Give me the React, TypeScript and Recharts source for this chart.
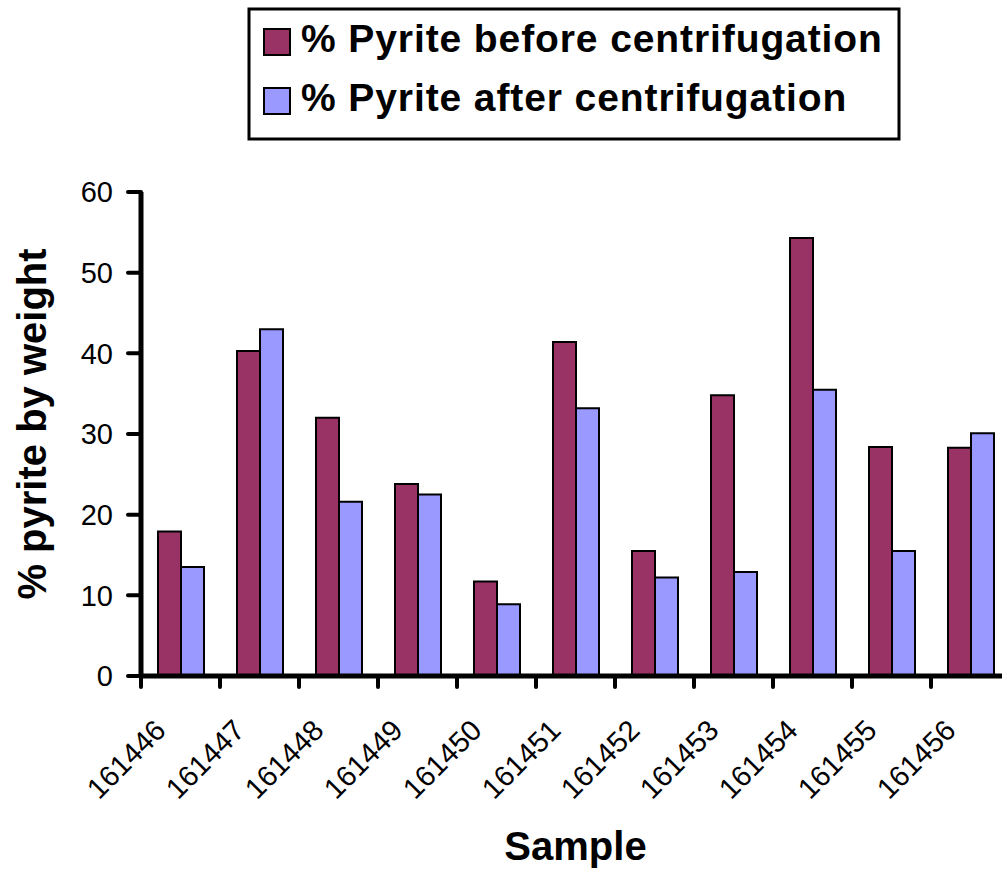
import React from 'react'
import { BarChart, Bar, XAxis, YAxis } from 'recharts'

const samples = ['161446', '161447', '161448', '161449', '161450', '161451', '161452', '161453', '161454', '161455', '161456']
const before = [17.9, 40.3, 32.0, 23.8, 11.7, 41.4, 15.5, 34.8, 54.3, 28.4, 28.3]
const after = [13.5, 43.0, 21.6, 22.5, 8.9, 33.2, 12.2, 12.9, 35.5, 15.5, 30.1]
const yTicks = [0, 10, 20, 30, 40, 50, 60]

const RED = '#993366'
const BLUE = '#9999FF'
const FONT = '"Liberation Sans", Arial, Helvetica, sans-serif'
const BAND = 79

const data = samples.map((s, i) => ({ sample: s, before: before[i], after: after[i] }))

const series = [
  { key: 'before', name: '% Pyrite before centrifugation', color: RED },
  { key: 'after', name: '% Pyrite after centrifugation', color: BLUE },
]

// ticks sit on the band edges, labels are hung off the band centre
const SampleTick = ({ x, y, payload, index }: any) => {
  const axisY = y - 11
  const bx = x - BAND / 2
  const last = index === samples.length - 1
  return (
    <g>
      <line x1={bx} y1={axisY} x2={bx} y2={axisY + 11} stroke="#000" strokeWidth={4} strokeLinecap="round" />
      {last && <line x1={bx + BAND} y1={axisY} x2={bx + BAND} y2={axisY + 11} stroke="#000" strokeWidth={4} strokeLinecap="round" />}
      <text x={x - 13} y={y + 45} textAnchor="end" fontSize={29} fontFamily={FONT} fill="#000"
        transform={`rotate(-45 ${x - 13} ${y + 45})`}>
        {payload.value}
      </text>
    </g>
  )
}

const YTitle = () => (
  <text x={46} y={424} textAnchor="middle" fontSize={40} fontWeight="bold" fontFamily={FONT} fill="#000"
    transform="rotate(-90 46 424)">
    % pyrite by weight
  </text>
)

export default function App() {
  return (
    <div style={{ position: 'fixed', left: 0, top: 0, width: 1002, height: 870, overflow: 'hidden', background: '#fff' }}>
      <BarChart width={1030} height={870} data={data} barGap={0}
        margin={{ top: 192, right: 20, left: 81, bottom: 0 }}>
        <XAxis dataKey="sample" height={194} tickLine={false} tickSize={11} tickMargin={0} interval={0}
          axisLine={{ stroke: '#000', strokeWidth: 5 }} tick={<SampleTick />}
          label={{ value: 'Sample', position: 'insideBottom', offset: 10, fontSize: 40, fontWeight: 'bold', fontFamily: FONT, fill: '#000' }} />
        <YAxis width={60} domain={[0, 60]} ticks={yTicks} interval={0} tickSize={13} tickMargin={15}
          axisLine={{ stroke: '#000', strokeWidth: 5 }} tickLine={{ stroke: '#000', strokeWidth: 4, strokeLinecap: 'round' }}
          tick={{ fontSize: 29, fontFamily: FONT, fill: '#000' }}
          label={{ content: () => <YTitle /> }} />
        {series.map(s => (
          <Bar key={s.key} dataKey={s.key} name={s.name} fill={s.color} barSize={23}
            stroke="#000" strokeWidth={2} isAnimationActive={false} />
        ))}
      </BarChart>
      <svg width={660} height={140} style={{ position: 'absolute', left: 244, top: 4 }}>
        <rect x={5} y={5} width={650} height={130} fill="#fff" stroke="#000" strokeWidth={3} />
        {series.map((s, i) => (
          <g key={s.key}>
            <rect x={20} y={25 + i * 59} width={26} height={26} fill={s.color} stroke="#000" strokeWidth={2} />
            <text x={57} y={48 + i * 59} fontSize={39} fontWeight="bold" fontFamily={FONT} fill="#000" letterSpacing={0.9}>
              {s.name}
            </text>
          </g>
        ))}
      </svg>
    </div>
  )
}
